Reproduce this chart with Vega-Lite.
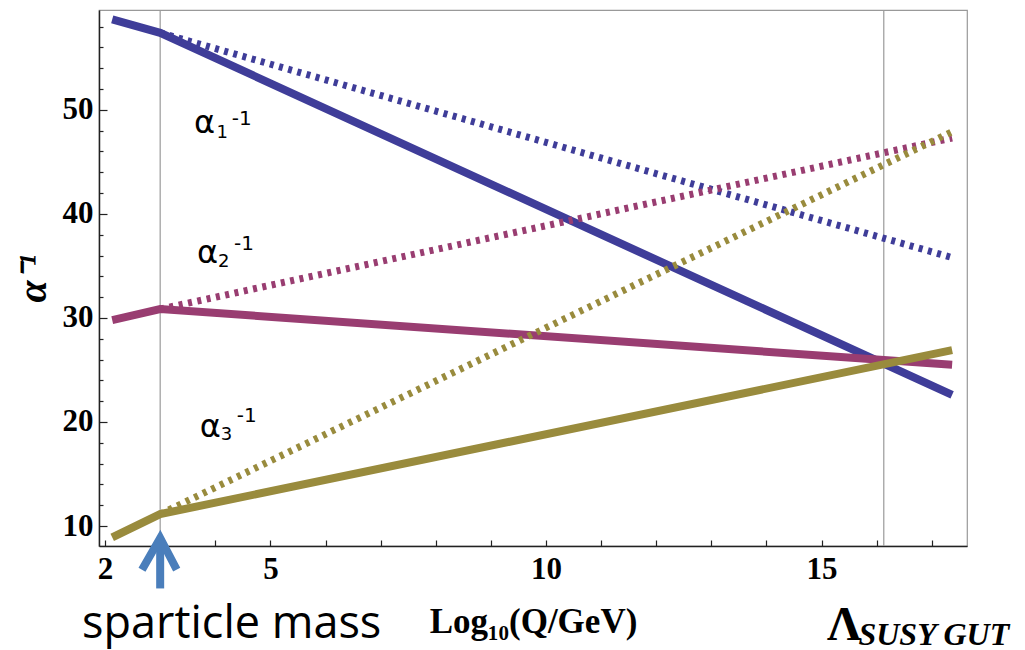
{
  "$schema": "https://vega.github.io/schema/vega-lite/v6.json",
  "width": 868,
  "height": 536,
  "autosize": {"type": "none"},
  "padding": {"left": 99, "top": 10, "right": 58, "bottom": 104},
  "background": "white",
  "config": {
    "view": {"stroke": "#999999", "strokeWidth": 1.2},
    "axis": {"grid": false}
  },
  "resolve": {"axis": {"y": "independent"}},
  "datasets": {
    "curves": [
      {"series": "a1", "style": "solid", "x": 2.13, "y": 58.7},
      {"series": "a1", "style": "solid", "x": 3.0, "y": 57.4},
      {"series": "a1", "style": "solid", "x": 17.37, "y": 22.6},
      {"series": "a2", "style": "solid", "x": 2.13, "y": 29.8},
      {"series": "a2", "style": "solid", "x": 3.0, "y": 30.85},
      {"series": "a2", "style": "solid", "x": 17.37, "y": 25.5},
      {"series": "a3", "style": "solid", "x": 2.13, "y": 8.9},
      {"series": "a3", "style": "solid", "x": 3.0, "y": 11.15},
      {"series": "a3", "style": "solid", "x": 17.37, "y": 26.9},
      {"series": "a1", "style": "dotted", "x": 3.0, "y": 57.4},
      {"series": "a1", "style": "dotted", "x": 17.37, "y": 35.8},
      {"series": "a2", "style": "dotted", "x": 3.0, "y": 30.85},
      {"series": "a2", "style": "dotted", "x": 17.37, "y": 47.3},
      {"series": "a3", "style": "dotted", "x": 3.0, "y": 11.15},
      {"series": "a3", "style": "dotted", "x": 17.37, "y": 47.9}
    ],
    "vlines": [{"x": 3.0}, {"x": 16.13}],
    "arrow": [
      {"part": "shaft", "i": 0, "x": 3.0, "y": 4.0},
      {"part": "shaft", "i": 1, "x": 3.0, "y": 8.4},
      {"part": "head", "i": 0, "x": 2.67, "y": 5.8},
      {"part": "head", "i": 1, "x": 3.0, "y": 8.85},
      {"part": "head", "i": 2, "x": 3.3, "y": 5.8}
    ],
    "labels": [
      {"kind": "alpha", "text": "α", "x": 3.615, "y": 47.79},
      {"kind": "sub", "text": "1", "x": 4.02, "y": 47.31},
      {"kind": "sup", "text": "-1", "x": 4.3, "y": 48.56},
      {"kind": "alpha", "text": "α", "x": 3.67, "y": 35.29},
      {"kind": "sub", "text": "2", "x": 4.05, "y": 34.9},
      {"kind": "sup", "text": "-1", "x": 4.34, "y": 36.54},
      {"kind": "alpha", "text": "α", "x": 3.72, "y": 18.56},
      {"kind": "sub", "text": "3", "x": 4.1, "y": 18.27},
      {"kind": "sup", "text": "-1", "x": 4.39, "y": 20.0}
    ],
    "notes": [
      {"kind": "spart", "text": "sparticle mass", "x": 1.583, "y": -0.77},
      {"kind": "lambda", "text": "Λ", "x": 15.1, "y": -0.96},
      {"kind": "gut", "text": "SUSY GUT", "x": 15.67, "y": -1.45}
    ]
  },
  "layer": [
    {
      "data": {"name": "vlines"},
      "mark": {"type": "rule", "color": "#9a9a9a", "strokeWidth": 1.2},
      "encoding": {
        "x": {
          "field": "x", "type": "quantitative",
          "scale": {"domain": [1.89, 17.64], "nice": false, "zero": false},
          "axis": {
            "values": [2, 3, 4, 5, 6, 7, 8, 9, 10, 11, 12, 13, 14, 15, 16, 17],
            "labelExpr": "(datum.value == 2 || datum.value == 5 || datum.value == 10 || datum.value == 15) ? datum.label : ''",
            "labelOverlap": false,
            "tickSize": -6,
            "tickColor": "#222222",
            "tickWidth": 1.2,
            "domainColor": "#222222",
            "domainWidth": 1.5,
            "labelFont": "Liberation Serif",
            "labelFontWeight": "bold",
            "labelFontSize": 31,
            "labelColor": "black",
            "labelPadding": 14,
            "title": "Log₁₀(Q/GeV)",
            "titleFont": "Liberation Serif",
            "titleFontWeight": "bold",
            "titleFontSize": 35,
            "titleColor": "black",
            "titleY": 86,
            "titleBaseline": "alphabetic"
          }
        }
      }
    },
    {
      "data": {"name": "curves"},
      "transform": [{"filter": "datum.style === 'solid'"}],
      "mark": {"type": "line", "strokeWidth": 8, "strokeCap": "butt"},
      "encoding": {
        "x": {"field": "x", "type": "quantitative", "scale": {"domain": [1.89, 17.64], "nice": false, "zero": false}},
        "y": {
          "field": "y", "type": "quantitative",
          "scale": {"domain": [8.08, 59.6], "nice": false, "zero": false},
          "axis": {
            "orient": "left",
            "values": [10, 20, 30, 40, 50],
            "labelOverlap": false,
            "tickSize": -8,
            "tickColor": "#222222",
            "tickWidth": 1.2,
            "domainColor": "#222222",
            "domainWidth": 1.5,
            "labelFont": "Liberation Serif",
            "labelFontWeight": "bold",
            "labelFontSize": 31,
            "labelColor": "black",
            "labelPadding": 14,
            "title": "α⁻¹",
            "titleFont": "Liberation Serif",
            "titleFontWeight": "bold",
            "titleFontStyle": "italic",
            "titleFontSize": 40,
            "titleColor": "black",
            "titleX": -54,
            "titleY": 268,
            "titleAlign": "center",
            "titleBaseline": "alphabetic"
          }
        },
        "color": {
          "field": "series", "type": "nominal",
          "scale": {"domain": ["a1", "a2", "a3"], "range": ["#3f3d99", "#993d71", "#998b3d"]},
          "legend": null
        }
      }
    },
    {
      "data": {"name": "curves"},
      "transform": [{"filter": "datum.style === 'dotted'"}],
      "mark": {"type": "line", "strokeWidth": 7, "strokeDash": [4, 5.5], "strokeCap": "butt"},
      "encoding": {
        "x": {"field": "x", "type": "quantitative", "scale": {"domain": [1.89, 17.64], "nice": false, "zero": false}},
        "y": {
          "field": "y", "type": "quantitative",
          "scale": {"domain": [8.08, 59.6], "nice": false, "zero": false},
          "axis": {
            "orient": "left",
            "values": [12, 14, 16, 18, 22, 24, 26, 28, 32, 34, 36, 38, 42, 44, 46, 48, 52, 54, 56, 58],
            "labels": false,
            "domain": false,
            "title": null,
            "tickSize": -4,
            "tickColor": "#222222",
            "tickWidth": 1.2
          }
        },
        "color": {"field": "series", "type": "nominal", "scale": {"domain": ["a1", "a2", "a3"], "range": ["#3f3d99", "#993d71", "#998b3d"]}, "legend": null}
      }
    },
    {
      "mark": {"type": "rule", "color": "#111111", "strokeWidth": 2.5},
      "encoding": {
        "x": {"datum": 17.64, "type": "quantitative", "scale": {"domain": [1.89, 17.64], "nice": false, "zero": false}}
      }
    },
    {
      "data": {"name": "arrow"},
      "mark": {"type": "line", "color": "#4a7ebb", "strokeWidth": 8, "strokeCap": "butt", "strokeJoin": "miter"},
      "encoding": {
        "x": {"field": "x", "type": "quantitative", "scale": {"domain": [1.89, 17.64], "nice": false, "zero": false}},
        "y": {"field": "y", "type": "quantitative", "scale": {"domain": [8.08, 59.6], "nice": false, "zero": false}, "axis": null},
        "detail": {"field": "part", "type": "nominal"},
        "order": {"field": "i", "type": "quantitative"}
      }
    },
    {
      "data": {"name": "labels"},
      "transform": [{"filter": "datum.kind === 'alpha'"}],
      "mark": {"type": "text", "font": "DejaVu Sans", "fontSize": 32, "align": "left", "baseline": "alphabetic", "color": "black"},
      "encoding": {
        "x": {"field": "x", "type": "quantitative", "scale": {"domain": [1.89, 17.64], "nice": false, "zero": false}},
        "y": {"field": "y", "type": "quantitative", "scale": {"domain": [8.08, 59.6], "nice": false, "zero": false}, "axis": null},
        "text": {"field": "text"}
      }
    },
    {
      "data": {"name": "labels"},
      "transform": [{"filter": "datum.kind === 'sub'"}],
      "mark": {"type": "text", "font": "DejaVu Sans", "fontSize": 18, "align": "left", "baseline": "alphabetic", "color": "black"},
      "encoding": {
        "x": {"field": "x", "type": "quantitative", "scale": {"domain": [1.89, 17.64], "nice": false, "zero": false}},
        "y": {"field": "y", "type": "quantitative", "scale": {"domain": [8.08, 59.6], "nice": false, "zero": false}, "axis": null},
        "text": {"field": "text"}
      }
    },
    {
      "data": {"name": "labels"},
      "transform": [{"filter": "datum.kind === 'sup'"}],
      "mark": {"type": "text", "font": "DejaVu Sans", "fontSize": 20, "align": "left", "baseline": "alphabetic", "color": "black"},
      "encoding": {
        "x": {"field": "x", "type": "quantitative", "scale": {"domain": [1.89, 17.64], "nice": false, "zero": false}},
        "y": {"field": "y", "type": "quantitative", "scale": {"domain": [8.08, 59.6], "nice": false, "zero": false}, "axis": null},
        "text": {"field": "text"}
      }
    },
    {
      "data": {"name": "notes"},
      "transform": [{"filter": "datum.kind === 'spart'"}],
      "mark": {"type": "text", "font": "Open Sans", "fontSize": 45, "align": "left", "baseline": "alphabetic", "color": "black"},
      "encoding": {
        "x": {"field": "x", "type": "quantitative", "scale": {"domain": [1.89, 17.64], "nice": false, "zero": false}},
        "y": {"field": "y", "type": "quantitative", "scale": {"domain": [8.08, 59.6], "nice": false, "zero": false}, "axis": null},
        "text": {"field": "text"}
      }
    },
    {
      "data": {"name": "notes"},
      "transform": [{"filter": "datum.kind === 'lambda'"}],
      "mark": {"type": "text", "font": "Liberation Serif", "fontWeight": "bold", "fontSize": 48, "align": "left", "baseline": "alphabetic", "color": "black"},
      "encoding": {
        "x": {"field": "x", "type": "quantitative", "scale": {"domain": [1.89, 17.64], "nice": false, "zero": false}},
        "y": {"field": "y", "type": "quantitative", "scale": {"domain": [8.08, 59.6], "nice": false, "zero": false}, "axis": null},
        "text": {"field": "text"}
      }
    },
    {
      "data": {"name": "notes"},
      "transform": [{"filter": "datum.kind === 'gut'"}],
      "mark": {"type": "text", "font": "Liberation Serif", "fontWeight": "bold", "fontStyle": "italic", "fontSize": 32, "align": "left", "baseline": "alphabetic", "color": "black"},
      "encoding": {
        "x": {"field": "x", "type": "quantitative", "scale": {"domain": [1.89, 17.64], "nice": false, "zero": false}},
        "y": {"field": "y", "type": "quantitative", "scale": {"domain": [8.08, 59.6], "nice": false, "zero": false}, "axis": null},
        "text": {"field": "text"}
      }
    }
  ]
}
